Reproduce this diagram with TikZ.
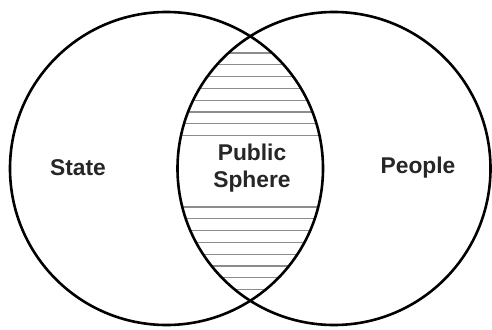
\documentclass[tikz,border=0pt]{standalone}
\usepackage{fontspec}
\setmainfont{Liberation Sans}
\begin{document}
\begin{tikzpicture}[x=1pt,y=-1pt,
  ring/.style={circle, draw=black, line width=2.6pt, minimum size=313pt, inner sep=0pt},
  hatch/.style={draw=black!45, line width=1.3pt},
  lbl/.style={font=\fontsize{22.8}{27.5}\selectfont\bfseries, text=black!85, align=center, inner sep=0pt}]
\useasboundingbox (0,0) rectangle (492,329);
\fill[white] (0,0) rectangle (492,329);
\begin{scope}
  \clip (166.5,168.5) circle (156.5);
  \clip (334,168.5) circle (156.5);
  \foreach \k in {0,...,7} {
    \draw[hatch] (150,53+11.8*\k) -- (350,53+11.8*\k);
    \draw[hatch] (150,207+11.8*\k) -- (350,207+11.8*\k);
  }
\end{scope}
\node[ring] (state) at (166.5,168.5) {};
\node[ring] (people) at (334,168.5) {};
\node[lbl] (statelbl) at (78,168) {State};
\node[lbl] (peoplelbl) at (418,168) {People};
\node[lbl] (sphere) at (252,168) {Public\\Sphere};
\end{tikzpicture}
\end{document}
